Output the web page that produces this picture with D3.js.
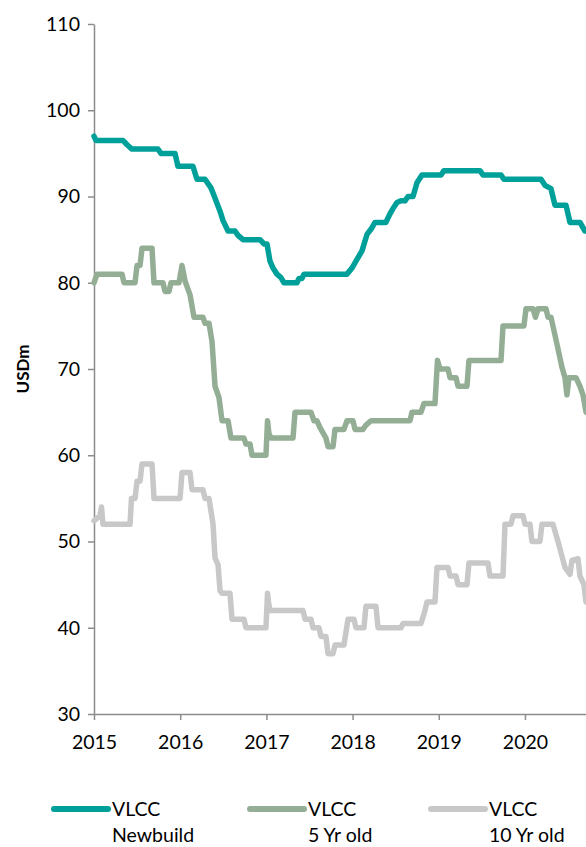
<!DOCTYPE html>
<html>
<head>
<meta charset="utf-8">
<script src="https://cdn.jsdelivr.net/npm/d3@7"></script>
<style>
  html, body { margin: 0; padding: 0; background: #fff; }
  svg { display: block; font-family: Lato, "Open Sans", sans-serif; }
</style>
</head>
<body>
<svg id="chart" width="586" height="847"></svg>
<script>
// VLCC second-hand and newbuild prices, USD million (time as decimal year)
const yearTicks = [2015, 2016, 2017, 2018, 2019, 2020];
const valueTicks = [30, 40, 50, 60, 70, 80, 90, 100, 110];
const seriesNames = [["VLCC", "Newbuild"], ["VLCC", "5 Yr old"], ["VLCC", "10 Yr old"]];
const seriesColors = ["#00A09A", "#94AE96", "#C8C8C8"];

const newbuild = [
  [2015.000, 97.0], [2015.023, 96.5], [2015.336, 96.5], [2015.383, 96.0], [2015.441, 95.5],
  [2015.742, 95.5], [2015.777, 95.0], [2015.940, 95.0], [2015.974, 93.5], [2016.148, 93.5],
  [2016.195, 92.0], [2016.288, 92.0], [2016.323, 91.5], [2016.357, 91.0], [2016.381, 90.4],
  [2016.462, 88.3], [2016.497, 87.2], [2016.555, 86.0], [2016.636, 86.0], [2016.671, 85.5],
  [2016.729, 85.0], [2016.926, 85.0], [2016.972, 84.5], [2017.007, 84.5], [2017.042, 82.5],
  [2017.077, 81.7], [2017.123, 81.0], [2017.169, 80.6], [2017.204, 80.0], [2017.355, 80.0],
  [2017.378, 80.5], [2017.413, 80.5], [2017.436, 81.0], [2017.935, 81.0], [2017.993, 81.7],
  [2018.051, 82.7], [2018.109, 83.7], [2018.167, 85.6], [2018.213, 86.2], [2018.260, 87.0],
  [2018.387, 87.0], [2018.434, 88.0], [2018.469, 88.6], [2018.515, 89.3], [2018.561, 89.5],
  [2018.608, 89.5], [2018.643, 90.0], [2018.701, 90.0], [2018.747, 91.6], [2018.805, 92.5],
  [2019.026, 92.5], [2019.060, 93.0], [2019.478, 93.0], [2019.513, 92.5], [2019.722, 92.5],
  [2019.756, 92.0], [2020.186, 92.0], [2020.232, 91.3], [2020.302, 90.9], [2020.348, 89.0],
  [2020.476, 89.0], [2020.522, 87.0], [2020.638, 87.0], [2020.696, 86.0], [2020.708, 86.0]
];

const fiveYearOld = [
  [2015.000, 80.0], [2015.035, 81.0], [2015.325, 81.0], [2015.348, 80.0], [2015.476, 80.0],
  [2015.499, 82.0], [2015.534, 82.0], [2015.557, 84.0], [2015.673, 84.0], [2015.696, 80.0],
  [2015.800, 80.0], [2015.824, 79.0], [2015.870, 79.0], [2015.893, 80.0], [2015.986, 80.0],
  [2016.021, 82.0], [2016.056, 80.2], [2016.114, 78.6], [2016.160, 76.0], [2016.264, 76.0],
  [2016.288, 75.3], [2016.334, 75.3], [2016.369, 73.2], [2016.404, 68.0], [2016.450, 66.7],
  [2016.485, 64.0], [2016.555, 64.0], [2016.589, 62.0], [2016.740, 62.0], [2016.763, 61.3],
  [2016.810, 61.3], [2016.833, 60.0], [2016.995, 60.0], [2017.013, 64.0], [2017.030, 62.5],
  [2017.053, 62.0], [2017.309, 62.0], [2017.332, 65.0], [2017.517, 65.0], [2017.552, 64.0],
  [2017.587, 64.0], [2017.622, 63.2], [2017.657, 62.6], [2017.691, 62.0], [2017.715, 61.0],
  [2017.773, 61.0], [2017.796, 63.0], [2017.900, 63.0], [2017.935, 64.0], [2018.005, 64.0],
  [2018.028, 63.0], [2018.121, 63.0], [2018.155, 63.5], [2018.213, 64.0], [2018.666, 64.0],
  [2018.689, 65.0], [2018.794, 65.0], [2018.828, 66.0], [2018.956, 66.0], [2018.985, 71.0],
  [2019.014, 70.0], [2019.107, 70.0], [2019.130, 69.0], [2019.200, 69.0], [2019.223, 68.0],
  [2019.327, 68.0], [2019.350, 71.0], [2019.722, 71.0], [2019.745, 75.0], [2019.988, 75.0],
  [2020.012, 77.0], [2020.093, 77.0], [2020.122, 76.0], [2020.151, 77.0], [2020.244, 77.0],
  [2020.267, 76.0], [2020.302, 76.0], [2020.371, 72.9], [2020.429, 70.2], [2020.464, 69.0],
  [2020.487, 67.0], [2020.510, 69.0], [2020.592, 69.0], [2020.638, 68.0], [2020.673, 67.0],
  [2020.708, 65.0]
];

const tenYearOld = [
  [2015.000, 52.4], [2015.070, 53.0], [2015.087, 54.0], [2015.104, 52.0], [2015.418, 52.0],
  [2015.435, 55.0], [2015.476, 55.0], [2015.499, 57.0], [2015.534, 57.0], [2015.557, 59.0],
  [2015.673, 59.0], [2015.696, 55.0], [2015.998, 55.0], [2016.021, 58.0], [2016.114, 58.0],
  [2016.137, 56.0], [2016.264, 56.0], [2016.288, 55.0], [2016.334, 55.0], [2016.381, 52.0],
  [2016.404, 48.1], [2016.439, 47.3], [2016.462, 44.3], [2016.485, 44.0], [2016.578, 44.0],
  [2016.601, 41.0], [2016.740, 41.0], [2016.763, 40.0], [2016.995, 40.0], [2017.013, 44.0],
  [2017.024, 43.0], [2017.042, 42.0], [2017.425, 42.0], [2017.448, 41.0], [2017.517, 41.0],
  [2017.541, 40.0], [2017.610, 40.0], [2017.633, 39.0], [2017.691, 39.0], [2017.715, 37.0],
  [2017.773, 37.0], [2017.796, 38.0], [2017.900, 38.0], [2017.947, 41.0], [2018.016, 41.0],
  [2018.039, 40.0], [2018.132, 40.0], [2018.155, 42.5], [2018.271, 42.5], [2018.295, 40.0],
  [2018.561, 40.0], [2018.585, 40.5], [2018.794, 40.5], [2018.840, 42.0], [2018.863, 43.0],
  [2018.956, 43.0], [2018.979, 47.0], [2019.107, 47.0], [2019.130, 46.0], [2019.200, 46.0],
  [2019.223, 45.0], [2019.327, 45.0], [2019.350, 47.5], [2019.571, 47.5], [2019.594, 46.0],
  [2019.745, 46.0], [2019.768, 52.0], [2019.838, 52.0], [2019.861, 53.0], [2019.977, 53.0],
  [2020.000, 52.0], [2020.058, 52.0], [2020.081, 50.0], [2020.174, 50.0], [2020.197, 52.0],
  [2020.325, 52.0], [2020.383, 50.0], [2020.464, 47.0], [2020.522, 46.2], [2020.545, 47.8],
  [2020.615, 48.0], [2020.638, 46.0], [2020.684, 45.0], [2020.708, 43.0]
];

const allSeries = [newbuild, fiveYearOld, tenYearOld];

const svg = d3.select("#chart");
const plotLeft = 94, plotRight = 586, plotTop = 24, plotBottom = 714;
const labelFont = "19.5px";

const x = d3.scaleLinear().domain([2015, 2020.708]).range([plotLeft, plotRight]);
const y = d3.scaleLinear().domain([30, 110]).range([plotBottom, plotTop]);

const axisColor = "#8C8C8C";

// y axis
const yAxis = svg.append("g")
  .attr("transform", `translate(${plotLeft},0)`)
  .call(d3.axisLeft(y).tickValues(valueTicks).tickSize(6).tickPadding(8).tickSizeOuter(0));
yAxis.select(".domain").attr("stroke", axisColor).attr("stroke-width", 1.5);
yAxis.selectAll(".tick line").attr("stroke", axisColor).attr("stroke-width", 1.5);
yAxis.selectAll(".tick text").attr("fill", "#000").style("font-size", labelFont).style("font-family", "Lato, sans-serif");

// x axis
const xAxis = svg.append("g")
  .attr("transform", `translate(0,${plotBottom})`)
  .call(d3.axisBottom(x).tickValues(yearTicks).tickFormat(d3.format("d")).tickSize(6).tickPadding(15).tickSizeOuter(0));
xAxis.select(".domain").attr("stroke", axisColor).attr("stroke-width", 1.5);
xAxis.selectAll(".tick line").attr("stroke", axisColor).attr("stroke-width", 1.5);
xAxis.selectAll(".tick text").attr("fill", "#000").style("font-size", labelFont).style("font-family", "Lato, sans-serif");

// y axis title
svg.append("text")
  .attr("transform", `translate(29,${(plotTop + plotBottom) / 2}) rotate(-90)`)
  .attr("text-anchor", "middle")
  .style("font-size", "17px")
  .style("font-weight", "bold")
  .style("font-family", "Lato, sans-serif")
  .text("USDm");

// price lines (drawn back to front so newbuild sits on top)
const line = d3.line().x(d => x(d[0])).y(d => y(d[1]));
[2, 1, 0].forEach(i => {
  svg.append("path")
    .datum(allSeries[i])
    .attr("fill", "none")
    .attr("stroke", seriesColors[i])
    .attr("stroke-width", 5.5)
    .attr("stroke-linejoin", "round")
    .attr("stroke-linecap", "round")
    .attr("d", line);
});

// legend
const legendX = [54, 250, 431];
const legend = svg.append("g").attr("transform", "translate(0,809)");
seriesNames.forEach((name, i) => {
  const g = legend.append("g").attr("transform", `translate(${legendX[i]},0)`);
  g.append("line")
    .attr("x1", 0).attr("x2", 54).attr("y1", 0).attr("y2", 0)
    .attr("stroke", seriesColors[i]).attr("stroke-width", 6).attr("stroke-linecap", "round");
  const t = g.append("text")
    .attr("x", 58).attr("y", 7)
    .style("font-size", labelFont)
    .style("font-family", "Lato, sans-serif")
    .attr("fill", "#000");
  t.append("tspan").attr("x", 58).text(name[0]);
  t.append("tspan").attr("x", 58).attr("dy", 26).text(name[1]);
});
</script>
</body>
</html>
